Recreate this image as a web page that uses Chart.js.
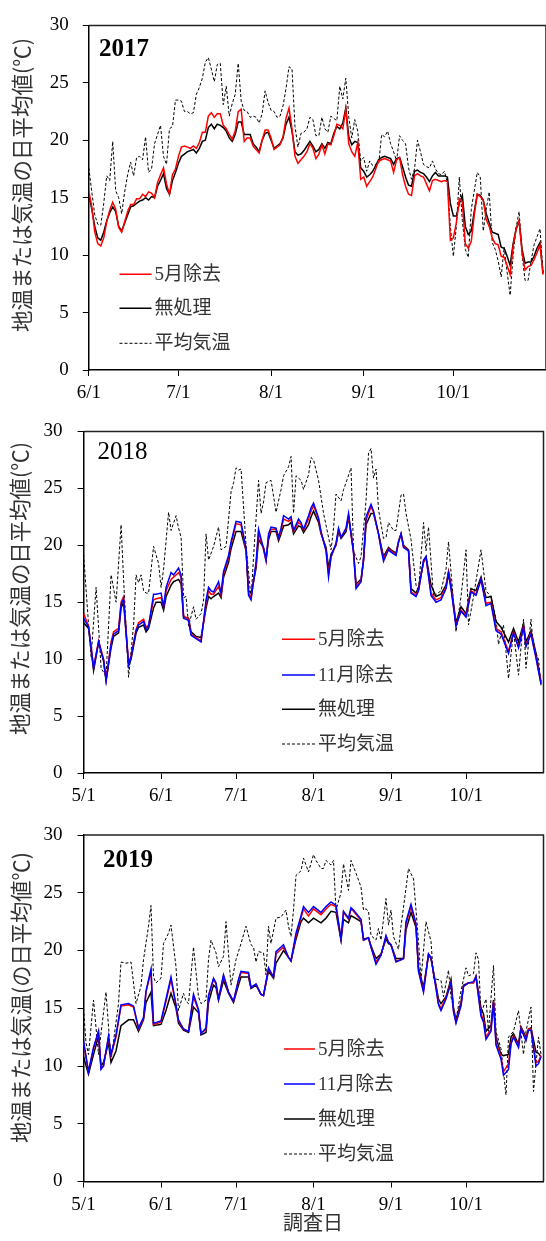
<!DOCTYPE html>
<html><head><meta charset="utf-8">
<script src="https://cdn.jsdelivr.net/npm/chart.js@4/dist/chart.umd.min.js"></script>
<style>
html,body{margin:0;padding:0;background:#fff;width:546px;height:1241px;overflow:hidden}
canvas{position:absolute;left:0}
</style></head><body>
<canvas id="c2017" width="546" height="405" style="top:0px"></canvas>
<canvas id="c2018" width="546" height="400" style="top:405px"></canvas>
<canvas id="c2019" width="546" height="436" style="top:805px"></canvas>
<script>
// ---------- tick labels ----------
const ticks2017Days = [0, 30, 61, 92, 122];
const ticks2017Labels = ['6/1', '7/1', '8/1', '9/1', '10/1'];
const ticksMayDays = [0, 31, 61, 92, 123, 153];
const ticksMayLabels = ['5/1', '6/1', '7/1', '8/1', '9/1', '10/1'];
const yTitleA = '地温または気温の日平均値(℃)';
const yTitleB = '地温または気温(の日平均値℃)';
const xTitle = '調査日';
const legendNames = ['5月除去', '11月除去', '無処理', '平均気温'];

// ---------- 2017 (day 0 = 6/1) ----------
const air2017Days = [];
for (let d = 0; d <= 152; d++) air2017Days.push(d);
const air2017 = [17.6,15.5,13.5,12.7,12.6,14.5,16.9,16.5,19.9,15.6,15.0,13.6,15.5,17.0,18.1,16.9,18.5,18.6,18.3,20.3,
17.2,17.5,19.7,20.5,21.3,18.6,17.9,21.0,21.2,23.5,23.5,23.4,22.5,22.5,22.3,22.4,24.0,24.6,25.4,26.8,
27.2,26.2,25.1,26.6,26.7,23.1,24.7,22.1,23.2,24.0,26.7,23.4,22.6,22.5,22.0,22.1,22.0,21.5,22.3,24.3,
23.3,22.6,22.5,22.0,22.1,23.0,24.5,26.4,26.2,21.2,19.4,20.6,20.7,21.0,22.0,21.8,20.4,20.4,22.0,21.0,
20.7,22.1,21.9,21.7,24.7,23.6,25.4,22.0,20.2,21.8,20.8,18.2,18.5,17.3,18.2,17.8,17.9,17.9,20.5,20.3,
20.8,19.7,19.0,18.2,20.4,20.0,19.7,17.6,16.6,17.5,20.0,19.0,17.9,17.7,17.6,18.2,17.5,17.1,17.0,17.3,
16.3,12.5,9.9,12.5,16.8,13.0,10.5,9.8,14.0,15.6,17.2,16.8,12.1,14.0,15.5,11.1,10.5,9.5,8.1,10.7,
8.5,6.5,10.0,12.4,13.8,10.0,7.8,7.8,9.5,10.9,11.6,12.3,8.5];
const soil2017Days = air2017Days;
const none2017 = [15.3,14.0,12.5,11.5,11.3,12.0,13.0,13.7,14.2,13.8,12.5,12.1,12.8,13.5,14.2,14.3,14.5,14.7,14.8,15.0,
14.8,15.1,15.0,16.0,16.5,17.1,15.8,15.3,16.5,17.2,18.0,18.6,18.8,19.0,19.1,19.2,18.9,19.3,19.9,20.0,
21.1,21.4,21.0,21.4,21.3,21.1,20.8,20.2,19.9,20.5,21.6,21.6,20.5,20.5,20.5,19.7,19.4,19.0,20.0,20.6,
20.7,20.0,19.3,19.5,19.7,20.2,21.4,22.0,20.8,19.0,18.7,18.8,19.1,19.5,19.9,19.5,19.0,19.2,19.7,19.3,
19.8,19.7,20.6,21.2,21.0,21.5,22.8,20.3,19.6,19.9,19.8,17.6,17.3,16.8,17.0,17.3,17.8,18.3,18.5,18.6,
18.5,18.4,17.9,18.4,18.5,17.7,16.8,16.1,16.0,17.3,17.4,17.2,17.1,16.8,16.4,16.9,17.2,16.9,16.9,16.9,
16.8,14.5,13.4,13.4,14.5,15.2,12.5,11.8,12.1,13.8,15.3,15.2,14.8,13.6,12.8,12.0,11.9,11.8,10.7,10.6,
9.9,9.1,11.0,12.3,13.0,10.5,9.3,9.4,9.4,9.9,10.6,11.1,8.4];
const may2017 = [15.6,14.2,12.0,11.0,10.8,11.5,12.9,13.9,14.6,14.0,12.4,12.0,12.9,13.8,14.4,14.4,14.9,14.9,15.3,15.1,
15.5,15.4,15.0,16.3,17.0,17.6,16.2,15.3,17.0,17.5,18.6,19.4,19.5,19.4,19.3,19.5,19.3,19.8,20.7,20.7,
22.1,22.4,22.0,22.3,22.3,21.3,21.0,20.5,20.1,20.8,22.5,22.7,19.9,20.2,20.2,19.5,19.2,18.9,20.0,20.9,
20.9,20.2,19.2,19.4,19.6,20.3,21.9,22.8,21.0,18.6,18.0,18.3,18.6,19.0,19.7,19.3,18.4,18.8,19.6,18.8,
19.7,19.6,20.4,21.4,21.3,21.0,22.7,19.7,19.0,18.6,19.8,16.6,16.8,16.0,16.4,16.8,17.5,18.2,18.3,18.4,
18.3,18.2,17.2,18.3,18.5,17.0,16.0,15.3,15.2,16.9,17.1,16.9,16.8,16.2,15.6,16.5,16.6,16.5,16.4,16.5,
16.4,11.3,11.5,12.8,14.9,14.6,11.0,10.6,11.2,13.5,15.3,15.1,14.8,13.1,12.5,11.5,11.0,10.9,9.9,9.8,
9.1,8.3,10.8,12.2,13.0,10.2,8.7,9.0,9.1,9.6,10.2,10.9,8.3];

// ---------- 2018 (day 0 = 5/1) ----------
const air2018Days = [0,2,3,5,7,9,11,13,15,16,18,20,21,22,23,24,25,26,28,30,31,32,34,35,37,38,39,40,41,42,44,45,47,48,49,50,52,54,55,57,59,60,61,62,63,65,67,68,70,71,72,73,75,77,79,80,82,83,84,85,87,88,90,91,92,94,96,98,99,100,101,103,104,105,107,108,110,111,113,114,115,116,117,118,120,121,122,124,125,127,128,129,131,133,134,136,137,138,140,143,145,146,149,151,153,154,156,159,161,163,165,166,168,170,172,174,176,177,179,180,182,183];
const air2018 = [19.2,13.0,10.2,16.3,9.2,8.5,17.4,15.0,21.8,17.0,8.4,13.0,17.4,16.7,17.4,16.0,15.8,15.8,19.9,18.4,16.3,17.9,22.9,21.3,22.6,21.5,20.7,15.4,15.5,12.9,14.6,13.5,14.0,15.2,21.0,18.7,19.9,21.6,19.6,19.9,24.7,25.5,26.8,26.6,26.7,20.0,15.3,19.0,25.7,22.8,23.8,25.5,25.7,22.9,24.9,26.1,26.9,27.8,22.8,26.1,25.7,24.9,26.2,27.7,27.5,25.7,22.8,20.7,19.6,21.5,24.5,23.9,24.9,25.5,26.8,19.5,18.4,19.0,23.9,28.1,28.5,25.9,26.7,23.1,20.6,20.7,22.0,21.3,21.3,24.4,24.5,22.8,20.5,16.5,16.0,22.0,19.5,21.6,15.5,16.0,17.9,20.3,12.4,15.5,19.6,13.0,15.5,19.6,16.0,15.5,13.5,11.3,13.0,8.3,12.5,8.6,13.5,9.2,13.5,11.0,10.0,7.7];
const soil2018Days = [0,2,4,6,8,9,11,12,14,15,16,18,19,21,22,24,25,26,28,29,31,32,33,35,36,38,39,40,42,43,45,47,49,50,51,52,54,55,56,58,59,61,63,65,66,67,69,70,72,73,74,75,77,78,79,80,82,83,84,86,87,88,90,91,92,94,95,97,98,99,101,102,103,105,106,108,109,111,112,113,115,116,118,119,120,122,123,125,126,127,128,130,131,133,134,136,137,139,141,143,145,146,147,149,151,153,155,157,159,161,163,165,167,170,172,174,176,177,179,181,183];
const none2018 = [13.2,12.7,9.0,11.5,9.8,8.1,11.0,12.0,12.3,14.5,15.0,9.4,10.0,12.3,12.8,13.0,12.4,12.7,14.5,15.0,15.0,14.3,15.5,16.5,16.8,17.0,16.6,13.7,13.6,12.4,12.0,11.9,14.5,15.5,15.3,15.5,15.8,15.4,17.2,18.5,19.7,21.2,21.2,19.5,16.0,15.8,18.0,20.5,19.8,18.8,20.5,21.2,21.2,20.4,21.0,21.7,21.8,22.0,21.0,21.7,21.6,21.1,21.8,22.5,23.0,22.0,21.0,19.8,18.0,19.2,20.0,21.2,20.6,21.2,22.5,19.5,16.6,17.0,18.7,21.8,22.8,22.8,21.0,20.0,19.0,19.8,19.6,19.3,20.3,21.0,20.0,19.6,16.2,15.8,16.3,18.5,19.0,16.5,15.5,15.7,16.5,17.7,16.5,13.2,14.6,14.0,16.2,16.0,17.2,15.4,15.5,13.3,12.8,11.5,12.7,11.5,13.1,11.5,12.5,10.5,8.0];
const may2018 = [14.0,12.9,9.3,11.6,10.0,8.2,11.5,12.4,12.7,15.0,15.5,9.6,10.3,12.6,13.2,13.5,12.8,13.0,15.2,15.3,15.4,14.6,16.0,17.0,17.2,17.6,17.2,13.8,13.5,12.2,11.9,11.6,14.9,16.0,15.7,15.7,16.4,15.6,17.5,18.9,20.1,21.9,21.8,19.6,15.8,15.4,18.3,21.1,19.6,18.6,20.8,21.4,21.4,20.6,21.3,22.3,22.1,22.3,21.2,22.0,21.8,21.3,22.3,23.0,23.5,22.3,21.1,19.6,17.5,19.0,20.1,21.4,20.7,21.4,22.6,19.4,16.4,16.9,18.7,22.2,23.4,22.9,21.0,19.8,18.8,19.7,19.5,19.2,20.3,21.0,19.9,19.5,15.9,15.6,16.1,18.6,18.9,15.8,15.2,15.4,16.3,17.6,16.3,13.0,14.3,13.8,16.0,15.7,17.0,14.9,15.0,12.7,12.4,10.7,12.4,11.1,12.9,11.2,12.3,10.2,7.9];
const nov2018 = [13.6,12.8,9.2,11.5,9.9,8.1,11.3,12.2,12.5,14.8,15.3,9.5,10.2,12.5,13.0,13.3,12.6,12.9,15.7,15.7,15.8,14.6,16.3,17.6,17.4,18.0,17.4,13.6,13.4,12.1,11.8,11.5,15.2,16.3,16.0,15.9,16.8,15.8,17.7,19.1,20.3,22.1,22.0,19.7,15.6,15.2,18.5,21.4,19.7,18.7,21.0,21.6,21.5,20.7,21.5,22.6,22.3,22.5,21.3,22.3,22.0,21.4,22.6,23.3,23.7,22.4,21.2,19.5,17.2,19.0,20.2,21.5,20.7,21.5,22.8,19.3,16.2,16.8,18.8,22.5,23.6,23.0,21.0,19.7,18.6,19.6,19.4,19.1,20.3,21.0,19.8,19.5,15.8,15.5,16.0,18.7,19.0,15.6,15.0,15.2,16.2,17.5,16.2,12.9,14.2,13.7,15.9,15.6,17.0,14.7,14.9,12.5,12.2,10.5,12.3,11.0,12.8,11.1,12.2,10.1,7.8];

// ---------- 2019 (day 0 = 5/1) ----------
const air2019Days = [0,1,2,4,6,9,11,14,15,17,19,21,23,24,26,27,28,29,31,32,34,35,37,38,40,41,42,44,46,47,49,50,51,53,54,56,57,59,61,63,65,67,68,69,70,72,73,74,75,77,79,81,82,83,84,85,87,88,90,92,93,95,96,97,99,100,101,103,104,106,107,109,111,112,113,114,115,117,118,119,121,122,123,124,126,127,129,130,132,134,135,137,139,140,143,144,146,147,149,151,153,154,156,157,158,159,161,162,164,165,167,169,170,172,174,176,177,179,180,182,183];
const air2019 = [15.0,12.0,11.0,15.7,11.0,16.4,10.5,15.4,19.0,18.9,19.0,15.4,16.9,19.2,22.1,23.9,17.7,17.2,17.6,20.6,21.5,22.2,18.6,14.8,16.3,15.6,15.4,20.3,16.0,15.4,15.7,19.2,20.9,19.8,18.6,19.5,22.5,17.0,19.2,20.6,22.1,20.5,20.3,19.0,19.9,19.8,17.9,22.1,20.6,22.8,22.9,23.5,22.1,21.2,23.5,26.5,26.9,28.0,26.8,28.3,27.8,27.1,27.1,27.8,27.4,27.8,23.5,25.0,27.5,25.2,27.8,26.7,25.5,23.5,23.6,23.4,21.3,20.9,21.9,20.9,24.5,22.2,23.5,21.2,20.1,22.1,25.4,27.1,26.2,20.8,17.5,22.5,20.8,17.6,17.4,16.0,18.3,16.0,14.0,16.5,18.5,17.8,18.0,19.8,19.2,14.5,15.8,13.0,18.7,13.0,11.5,7.5,12.5,13.0,14.8,11.0,13.0,15.1,7.8,12.5,11.0];
const soil2019Days = [0,2,4,6,7,8,10,11,13,15,18,20,22,24,25,27,28,31,33,35,37,38,40,42,44,46,47,49,50,52,53,54,56,58,60,62,63,66,67,69,71,72,74,76,77,80,82,83,85,87,88,90,92,95,97,99,101,103,104,106,107,108,111,112,114,115,117,119,121,122,123,125,127,128,129,131,133,134,136,138,139,141,142,143,145,147,148,149,151,152,154,156,157,159,160,161,163,164,165,167,168,170,171,172,174,175,177,178,179,181,182,183];
const none2019 = [10.8,9.3,11.0,12.6,10.0,10.3,12.0,10.3,11.3,13.5,14.0,14.0,13.0,14.0,15.5,16.4,13.5,13.6,14.8,16.3,15.0,13.7,13.1,12.9,15.1,14.6,12.7,12.9,15.5,17.0,16.8,15.7,17.4,16.3,15.5,17.0,17.7,17.7,16.7,17.0,16.2,16.1,18.2,17.6,18.9,20.0,19.4,19.1,21.0,22.5,22.8,22.4,22.8,22.4,22.8,23.4,23.3,20.9,22.7,22.4,23.0,22.9,22.5,21.0,21.1,20.4,19.3,19.7,21.0,20.6,20.5,19.3,19.3,19.3,21.8,23.3,22.0,18.5,16.8,19.6,19.3,17.0,15.8,15.4,16.0,17.5,15.0,14.0,15.5,17.0,17.2,17.2,17.8,15.0,14.5,13.0,13.5,15.7,12.5,11.0,10.9,11.0,12.5,12.8,11.9,13.4,12.5,13.2,13.3,11.2,11.1,10.8];
const may2019 = [12.0,9.5,11.5,13.0,9.8,10.0,12.5,10.9,12.5,15.2,15.3,15.1,13.2,14.1,16.4,18.2,13.6,13.8,15.6,17.5,15.2,13.9,13.2,13.0,16.0,14.8,12.8,13.2,16.0,17.5,17.1,15.8,17.8,16.4,15.6,17.4,18.1,18.0,16.8,17.1,16.2,16.1,18.4,17.7,19.7,20.3,19.4,19.1,21.3,22.8,23.6,23.0,23.6,23.1,23.6,24.0,23.8,21.0,23.3,22.7,23.6,23.4,22.6,20.9,21.1,20.3,19.0,19.6,21.2,20.7,20.5,19.1,19.2,19.3,22.3,23.8,22.2,18.3,16.5,19.7,19.4,16.8,15.4,15.0,15.9,17.3,14.8,13.8,15.3,16.9,17.2,17.2,17.7,14.5,14.0,12.5,13.2,15.6,12.0,10.8,9.5,10.2,12.0,12.6,11.7,13.3,12.3,13.2,13.2,10.3,10.4,10.9];
const nov2019 = [12.2,9.5,11.6,13.0,9.7,10.0,12.6,11.0,12.7,15.3,15.4,15.2,13.3,14.2,16.5,18.4,13.7,13.9,15.8,17.7,15.3,14.0,13.2,13.0,16.2,14.9,12.8,13.3,16.1,17.6,17.2,15.8,17.9,16.4,15.6,17.5,18.2,18.1,16.8,17.1,16.2,16.1,18.5,17.7,19.9,20.5,19.4,19.1,21.5,23.0,23.8,23.3,23.8,23.3,23.8,24.2,23.9,21.0,23.4,22.8,23.7,23.5,22.7,20.9,21.1,20.3,18.8,19.6,21.3,20.7,20.5,19.0,19.2,19.3,22.5,24.0,22.3,18.2,16.4,19.7,19.4,16.7,15.3,14.8,15.8,17.2,14.7,13.7,15.2,16.9,17.2,17.3,17.7,14.3,13.8,12.3,13.0,15.5,11.8,10.6,9.2,9.7,11.9,12.5,11.6,13.2,12.2,13.1,13.1,10.0,10.2,10.8];

// ---------- drawing ----------
const SERIF = "'Liberation Serif','Times New Roman',serif";
const JP = "'Noto Sans CJK JP','Noto Sans',sans-serif";
const MIX = "'Liberation Serif','Noto Sans CJK JP',serif";

function pts(days, vals) { return days.map((d, i) => ({ x: d, y: vals[i] })); }

const overlay = {
  id: 'overlay',
  afterDraw(chart, args, o) {
    const ctx = chart.ctx, a = chart.chartArea;
    ctx.save();
    // frame (top + right)
    ctx.strokeStyle = '#222'; ctx.lineWidth = 1.5;
    ctx.beginPath();
    ctx.moveTo(a.left, a.top); ctx.lineTo(a.right, a.top); ctx.lineTo(a.right, a.bottom);
    ctx.stroke();
    // year label
    ctx.fillStyle = '#000';
    ctx.font = o.yearWeight + ' 25px ' + SERIF;
    ctx.textBaseline = 'middle'; ctx.textAlign = 'left';
    ctx.fillText(o.year, o.yearX, o.yearY);
    // y title
    ctx.save();
    ctx.translate(o.ytX, o.ytY); ctx.rotate(-Math.PI / 2);
    ctx.font = '20px ' + JP;
    const w = ctx.measureText(o.yTitle).width;
    const fs = 20 * o.ytLen / w;
    ctx.font = fs + 'px ' + JP;
    ctx.fillStyle = '#333'; ctx.textAlign = 'center'; ctx.textBaseline = 'middle';
    ctx.fillText(o.yTitle, 0, 0);
    ctx.restore();
    // legend
    ctx.font = '19px ' + MIX;
    ctx.textAlign = 'left'; ctx.textBaseline = 'middle';
    o.legend.forEach((it, i) => {
      const y = o.legY[i];
      ctx.strokeStyle = it.color; ctx.lineWidth = it.width; ctx.setLineDash(it.dash);
      ctx.beginPath(); ctx.moveTo(o.legX1, y); ctx.lineTo(o.legX2, y); ctx.stroke();
      ctx.setLineDash([]);
      ctx.fillStyle = '#333';
      ctx.fillText(it.label, o.legX2 + 3, y + 1);
    });
    if (o.xTitle) {
      ctx.font = '20px ' + JP; ctx.fillStyle = '#333'; ctx.textAlign = 'center';
      ctx.fillText(o.xTitle, o.xtX, o.xtY);
    }
    ctx.restore();
  }
};

function makeChart(id, c) {
  new Chart(document.getElementById(id), {
    type: 'line',
    data: { datasets: c.series.map(s => ({
      label: s.label, data: s.data, borderColor: s.color, borderWidth: s.width,
      borderDash: s.dash, pointRadius: 0, tension: 0, fill: false, order: s.order
    })) },
    options: {
      responsive: false, animation: false, devicePixelRatio: 1,
      layout: { padding: { top: c.top, right: c.right, left: 0, bottom: 0 } },
      plugins: { legend: { display: false }, tooltip: { enabled: false }, overlay: c.ov },
      scales: {
        x: {
          type: 'linear', min: 0, max: c.maxDay,
          afterBuildTicks: ax => { ax.ticks = c.tickDays.map(v => ({ value: v })); },
          afterFit: ax => { ax.height = c.xH; },
          ticks: { callback: v => c.tickLabels[c.tickDays.indexOf(v)], font: { family: SERIF, size: 19 },
                   color: '#000', padding: 6, maxRotation: 0, autoSkip: false },
          grid: { drawOnChartArea: false, tickLength: 6, color: '#000', lineWidth: 1 },
          border: { color: '#000', width: 1.5 }
        },
        y: {
          min: 0, max: 30,
          afterFit: ax => { ax.width = c.left; },
          ticks: { stepSize: 5, font: { family: SERIF, size: 19 }, color: '#000', padding: c.yPad },
          grid: { drawOnChartArea: false, tickLength: 6, color: '#000', lineWidth: 1 },
          border: { color: '#000', width: 1.5 }
        }
      }
    },
    plugins: [overlay]
  });
}

const L_RED = { label: legendNames[0], color: '#ff0000', width: 1.5, dash: [] };
const L_BLUE = { label: legendNames[1], color: '#0000ff', width: 1.5, dash: [] };
const L_BLK = { label: legendNames[2], color: '#000000', width: 1.5, dash: [] };
const L_AIR = { label: legendNames[3], color: '#000000', width: 1, dash: [3, 2] };

makeChart('c2017', {
  top: 24, right: 0, left: 88.8, xH: 35, yPad: 14, maxDay: 153,
  tickDays: ticks2017Days, tickLabels: ticks2017Labels,
  series: [
    { label: legendNames[0], data: pts(soil2017Days, may2017), color: '#ff0000', width: 1.5, dash: [], order: 2 },
    { label: legendNames[2], data: pts(soil2017Days, none2017), color: '#000', width: 1.5, dash: [], order: 3 },
    { label: legendNames[3], data: pts(air2017Days, air2017), color: '#000', width: 1, dash: [3, 2], order: 4 }
  ],
  ov: { year: '2017', yearWeight: 'bold', yearX: 99, yearY: 50, yTitle: yTitleA, ytX: 22, ytY: 185, ytLen: 294,
        legend: [L_RED, L_BLK, L_AIR], legX1: 119.5, legX2: 151.5, legY: [274.3, 308.3, 343.3] }
});

makeChart('c2018', {
  top: 21.5, right: 2.5, left: 83.6, xH: 32, yPad: 15, maxDay: 184,
  tickDays: ticksMayDays, tickLabels: ticksMayLabels,
  series: [
    { label: legendNames[0], data: pts(soil2018Days, may2018), color: '#ff0000', width: 1.5, dash: [], order: 2 },
    { label: legendNames[1], data: pts(soil2018Days, nov2018), color: '#0000ff', width: 1.5, dash: [], order: 1 },
    { label: legendNames[2], data: pts(soil2018Days, none2018), color: '#000', width: 1.5, dash: [], order: 3 },
    { label: legendNames[3], data: pts(air2018Days, air2018), color: '#000', width: 1, dash: [3, 2], order: 4 }
  ],
  ov: { year: '2018', yearWeight: 'normal', yearX: 97.6, yearY: 47, yTitle: yTitleA, ytX: 20, ytY: 183.5, ytLen: 293,
        legend: [L_RED, L_BLUE, L_BLK, L_AIR], legX1: 282, legX2: 315, legY: [234.3, 270, 304.3, 339] }
});

makeChart('c2019', {
  top: 30, right: 2.5, left: 83.5, xH: 59.5, yPad: 15, maxDay: 184,
  tickDays: ticksMayDays, tickLabels: ticksMayLabels,
  series: [
    { label: legendNames[0], data: pts(soil2019Days, may2019), color: '#ff0000', width: 1.5, dash: [], order: 2 },
    { label: legendNames[1], data: pts(soil2019Days, nov2019), color: '#0000ff', width: 1.5, dash: [], order: 1 },
    { label: legendNames[2], data: pts(soil2019Days, none2019), color: '#000', width: 1.5, dash: [], order: 3 },
    { label: legendNames[3], data: pts(air2019Days, air2019), color: '#000', width: 1, dash: [3, 2], order: 4 }
  ],
  ov: { year: '2019', yearWeight: 'bold', yearX: 103, yearY: 55.5, yTitle: yTitleB, ytX: 21, ytY: 192.5, ytLen: 291,
        legend: [L_RED, L_BLUE, L_BLK, L_AIR], legX1: 284, legX2: 315, legY: [244, 279, 314, 349],
        xTitle: xTitle, xtX: 313, xtY: 417 }
});
</script>
</body></html>
